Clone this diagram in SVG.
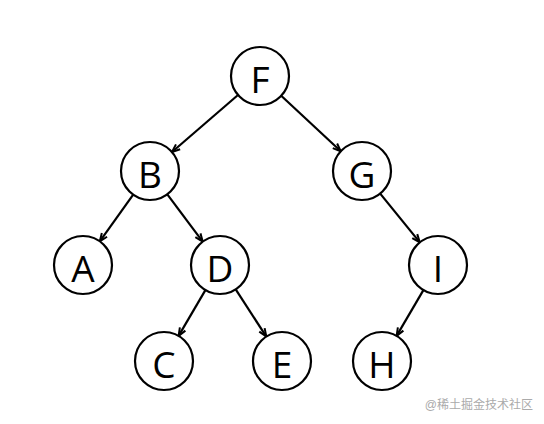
<svg xmlns="http://www.w3.org/2000/svg" width="544" height="424" viewBox="0 0 544 424">
<style>
.n circle{fill:#fff;stroke:#000;stroke-width:2.2}
.n text{font-family:"Open Sans","Liberation Sans",sans-serif;font-size:37px;fill:#000;text-anchor:middle;dominant-baseline:central}
.e line{stroke:#000;stroke-width:2.2;marker-end:url(#arr)}
.wm{font-family:"Liberation Sans","Noto Sans CJK SC",sans-serif;font-size:12px;fill:#aaaaaa;text-anchor:end}
</style>
<defs>
<marker id="arr" viewBox="0 0 10 10" refX="9" refY="5" markerWidth="10" markerHeight="10" markerUnits="userSpaceOnUse" orient="auto">
<path d="M1,1.8 L9,5 L1,8.2" fill="none" stroke="#000" stroke-width="2"/>
</marker>
</defs>
<rect width="544" height="424" fill="#fff"/>
<g id="connectors" class="e">
<line x1="238.0" y1="95.0" x2="172.0" y2="152.0"/>
<line x1="281.2" y1="95.7" x2="340.8" y2="151.3"/>
<line x1="133.2" y1="194.6" x2="99.8" y2="241.4"/>
<line x1="167.3" y1="194.3" x2="202.7" y2="241.7"/>
<line x1="380.2" y1="193.6" x2="419.8" y2="242.4"/>
<line x1="205.4" y1="290.1" x2="178.6" y2="335.9"/>
<line x1="235.7" y1="289.4" x2="266.3" y2="336.6"/>
<line x1="423.4" y1="290.1" x2="396.6" y2="335.9"/>
</g>
<g id="F" class="n"><circle cx="260" cy="76" r="29"/><text x="260" y="78">F</text></g>
<g id="B" class="n"><circle cx="150" cy="171" r="29"/><text x="150" y="173">B</text></g>
<g id="G" class="n"><circle cx="362" cy="171" r="29"/><text x="362" y="173">G</text></g>
<g id="A" class="n"><circle cx="83" cy="265" r="29"/><text x="83" y="267">A</text></g>
<g id="D" class="n"><circle cx="220" cy="265" r="29"/><text x="220" y="267">D</text></g>
<g id="I" class="n"><circle cx="438" cy="265" r="29"/><text x="438" y="267">I</text></g>
<g id="C" class="n"><circle cx="164" cy="361" r="29"/><text x="164" y="363">C</text></g>
<g id="E" class="n"><circle cx="282" cy="361" r="29"/><text x="282" y="363">E</text></g>
<g id="H" class="n"><circle cx="382" cy="361" r="29"/><text x="382" y="363">H</text></g>
<text class="wm" x="533" y="409">@稀土掘金技术社区</text>
</svg>
